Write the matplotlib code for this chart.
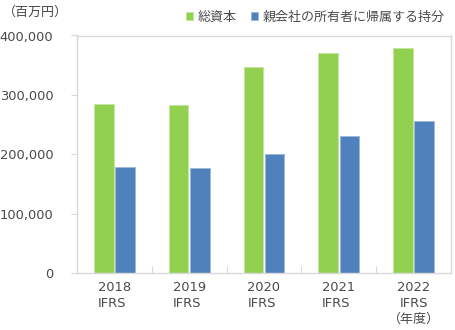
import matplotlib
matplotlib.use("Agg")
import matplotlib.pyplot as plt
import numpy as np
from matplotlib.ticker import FuncFormatter, FixedLocator

plt.rcParams['font.family'] = ['DejaVu Sans', 'Noto Sans CJK JP']

years = ["2018", "2019", "2020", "2021", "2022"]
standards = ["IFRS", "IFRS", "IFRS", "IFRS", "IFRS"]
total_equity = [285200, 283500, 346500, 371300, 379200]
owners_equity = [178900, 177200, 200300, 230000, 256000]
series_names = ["総資本", "親会社の所有者に帰属する持分"]
unit_label = "（百万円）"
fiscal_note = "（年度）"

GREEN = "#92D050"
BLUE = "#4F81BD"
TEXT = "#4A4A4A"
GRID = "#D9D9D9"

fig = plt.figure(figsize=(4.55, 3.3), dpi=100)
ax = fig.add_axes([77 / 455, 57 / 330, 374 / 455, 237.5 / 330])

x = np.arange(len(years))
w = 0.26
off = 0.142
ax.bar(x - off, total_equity, w, color=GREEN, edgecolor="#C4E59E", linewidth=0.7,
       label=series_names[0])
ax.bar(x + off, owners_equity, w, color=BLUE, edgecolor="#9EB9DC", linewidth=0.7,
       label=series_names[1])

ax.set_xlim(-0.5, len(years) - 0.5)
ax.set_ylim(0, 400000)
ax.set_yticks([0, 100000, 200000, 300000, 400000])
ax.yaxis.set_major_formatter(FuncFormatter(lambda v, p: f"{int(v):,}"))
ax.tick_params(axis="y", direction="out", length=4, color=GRID, labelcolor=TEXT,
               labelsize=9.4, pad=13)

# category separators as inward ticks, labels on minor ticks at centres
ax.xaxis.set_major_locator(FixedLocator(np.arange(0.5, len(years) - 1, 1.0)))
ax.xaxis.set_major_formatter(FuncFormatter(lambda v, p: ""))
ax.xaxis.set_minor_locator(FixedLocator(x))
ax.tick_params(axis="x", which="major", direction="in", length=5, color=GRID)
ax.tick_params(axis="x", which="minor", length=0, labelcolor=TEXT, labelsize=9.4, pad=6)

labels = [f"{yr}\n{st}" for yr, st in zip(years, standards)]
labels[-1] = labels[-1] + "\n" + fiscal_note
ax.set_xticklabels(labels, minor=True, linespacing=1.25)
for i, t in enumerate(ax.xaxis.get_minorticklabels()):
    t.set_multialignment("center" if i == len(years) - 1 else "left")

for s in ax.spines.values():
    s.set_color(GRID)
    s.set_linewidth(1.0)

fig.text(3 / 455, 1 - 12 / 330, unit_label, ha="left", va="center", fontsize=9.4, color=TEXT)

leg = ax.legend(loc="center right", bbox_to_anchor=(1 - 6 / 374, 1 + 18.5 / 237.5), ncol=2,
                frameon=False, fontsize=9.4, handlelength=0.55, handleheight=0.55,
                handletextpad=0.35, columnspacing=1.1, borderaxespad=0.0, borderpad=0.0)
for t in leg.get_texts():
    t.set_color(TEXT)

fig.savefig("out.png", dpi=100)
